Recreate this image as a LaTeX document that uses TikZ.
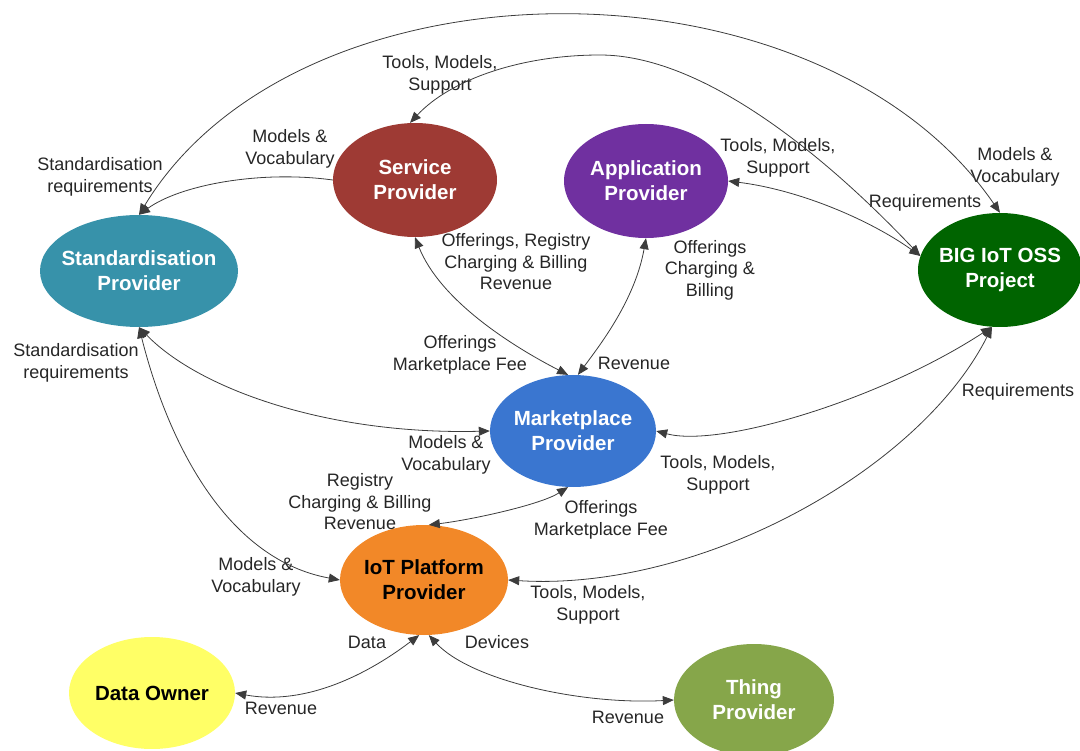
\documentclass[tikz,border=0pt]{standalone}
\usepackage{fontspec}
\setmainfont{Liberation Sans}
\usetikzlibrary{shapes.geometric, arrows.meta}
\definecolor{svcred}{RGB}{158, 58, 52}
\definecolor{apppurple}{RGB}{112, 48, 160}
\definecolor{stdteal}{RGB}{55, 146, 170}
\definecolor{ossgreen}{RGB}{0, 100, 0}
\definecolor{mktblue}{RGB}{58, 118, 208}
\definecolor{iotorange}{RGB}{242, 136, 40}
\definecolor{ownyellow}{RGB}{255, 255, 102}
\definecolor{thingolive}{RGB}{134, 166, 74}
\definecolor{linegrey}{RGB}{60, 60, 60}
\definecolor{labelgrey}{RGB}{38, 38, 38}
\tikzstyle{actor} = [ellipse, inner xsep=-25pt, inner ysep=0pt, align=center, text=white, font=\fontsize{20.5}{25}\selectfont\bfseries]
\tikzstyle{lbl} = [align=center, inner sep=0pt, text=labelgrey, font=\fontsize{18}{21.5}\selectfont]
\tikzstyle{link} = [{Triangle[length=11pt,width=9pt]}-{Triangle[length=11pt,width=9pt]}, draw=linegrey, line width=0.8pt]
\tikzstyle{onelink} = [-{Triangle[length=11pt,width=9pt]}, draw=linegrey, line width=0.8pt]

\begin{document}
\begin{tikzpicture}[x=1pt, y=-1pt]
    \useasboundingbox (0,0) rectangle (1080,751);

    % Roles
    \node[actor, fill=svcred, minimum width=164pt, minimum height=114pt] (svc) at (415,180) {Service\\Provider};
    \node[actor, fill=apppurple, minimum width=164pt, minimum height=114pt] (app) at (646,181) {Application\\Provider};
    \node[actor, fill=stdteal, minimum width=198pt, minimum height=112pt] (std) at (139,271) {Standardisation\\Provider};
    \node[actor, fill=ossgreen, minimum width=164pt, minimum height=114pt] (oss) at (1000,270) {BIG IoT OSS\\Project};
    \node[actor, fill=mktblue, minimum width=166pt, minimum height=112pt] (mkt) at (573,431) {Marketplace\\Provider};
    \node[actor, fill=iotorange, text=black, minimum width=168pt, minimum height=110pt] (iot) at (424,580) {IoT Platform\\Provider};
    \node[actor, fill=ownyellow, text=black, minimum width=166pt, minimum height=112pt] (own) at (152,693) {Data Owner};
    \node[actor, fill=thingolive, minimum width=160pt, minimum height=112pt] (thg) at (754,700) {Thing\\Provider};

    % Labels
    \node[lbl] (lSvcTools) at (440,75) {Tools, Models,\\Support};
    \node[lbl] (lSvcModels) at (290,149) {Models \&\\Vocabulary};
    \node[lbl] (lStdReqTop) at (100,177) {Standardisation\\requirements};
    \node[lbl] (lAppTools) at (778,158) {Tools, Models,\\Support};
    \node[lbl] (lOssModels) at (1015,167) {Models \&\\Vocabulary};
    \node[lbl] (lOssReqTop) at (925,203) {Requirements};
    \node[lbl] (lSvcOffer) at (516,262) {Offerings, Registry\\Charging \& Billing\\Revenue};
    \node[lbl] (lAppOffer) at (710,270) {Offerings\\Charging \&\\Billing};
    \node[lbl] (lMktFeeTop) at (460,355) {Offerings\\Marketplace Fee};
    \node[lbl] (lMktRev) at (634,363) {Revenue};
    \node[lbl] (lStdReqBot) at (76,363) {Standardisation\\requirements};
    \node[lbl] (lMktModels) at (446,455) {Models \&\\Vocabulary};
    \node[lbl] (lMktTools) at (718,475) {Tools, Models,\\Support};
    \node[lbl] (lOssReqBot) at (1018,392) {Requirements};
    \node[lbl] (lIotReg) at (360,502) {Registry\\Charging \& Billing\\Revenue};
    \node[lbl] (lMktFeeBot) at (601,520) {Offerings\\Marketplace Fee};
    \node[lbl] (lIotModels) at (256,577) {Models \&\\Vocabulary};
    \node[lbl] (lIotTools) at (588,605) {Tools, Models,\\Support};
    \node[lbl] (lData) at (367,642) {Data};
    \node[lbl] (lDevices) at (497,642) {Devices};
    \node[lbl] (lOwnRev) at (281,708) {Revenue};
    \node[lbl] (lThgRev) at (628,717) {Revenue};

    % Connectors
    \draw[link] (std.north) .. controls (300,-50) and (820,-50) .. (oss.north);
    \draw[onelink] (svc.west) .. controls (260,170) and (180,185) .. (std.north);
    \draw[link] (svc.95) .. controls (450,80) and (520,55) .. (600,55) .. controls (700,55) and (820,150) .. (oss.170);
    \draw[link] (app.east) .. controls (800,190) and (870,220) .. (oss.170);
    \draw[link] (svc.south) .. controls (440,300) and (510,345) .. (mkt.95);
    \draw[link] (app.south) .. controls (635,300) and (600,345) .. (mkt.85);
    \draw[link] (std.south) .. controls (200,390) and (330,435) .. (mkt.west);
    \draw[link] (std.south) .. controls (170,450) and (230,560) .. (iot.west);
    \draw[link] (mkt.265) .. controls (540,505) and (470,520) .. (iot.85);
    \draw[link] (mkt.east) .. controls (720,448) and (880,400) .. (oss.262);
    \draw[link] (iot.east) .. controls (700,592) and (920,470) .. (oss.262);
    \draw[link] (iot.265) .. controls (360,680) and (300,705) .. (own.east);
    \draw[link] (iot.275) .. controls (470,680) and (580,705) .. (thg.west);
\end{tikzpicture}
\end{document}
